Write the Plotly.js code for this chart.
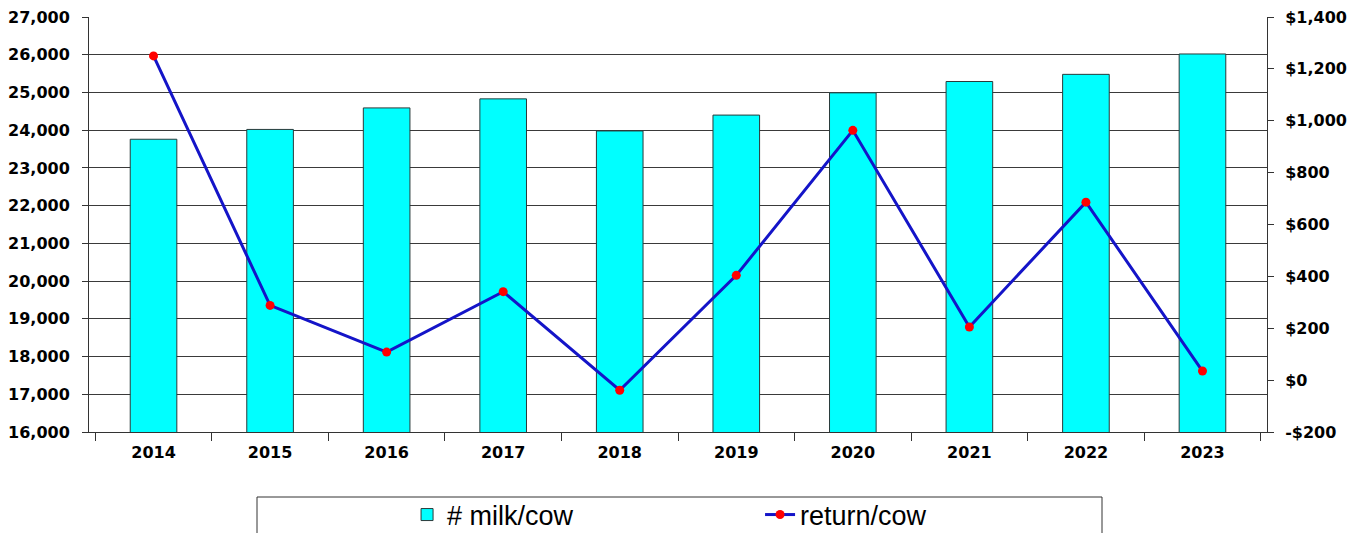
<!DOCTYPE html>
<html>
<head>
<meta charset="utf-8">
<script src="https://cdn.plot.ly/plotly-3.0.1.min.js"></script>
<style>html,body{margin:0;padding:0;background:#fff;}#chart{width:1367px;height:533px;}</style>
</head>
<body>
<div id="chart"></div>
<script>
var years = ['2014','2015','2016','2017','2018','2019','2020','2021','2022','2023'];
var milkPerCow = [23760, 24020, 24590, 24830, 23980, 24400, 24990, 25290, 25480, 26020];
var returnPerCow = [1250, 288, 108, 341, -39, 404, 963, 205, 686, 35];
var y2TickVals = [-200, 0, 200, 400, 600, 800, 1000, 1200, 1400];
var y2TickText = ['-$200', '$0', '$200', '$400', '$600', '$800', '$1,000', '$1,200', '$1,400'];

var tickFont = {family: 'DejaVu Sans, Arial, sans-serif', size: 16, color: '#000', weight: 'bold'};

var traces = [
  {
    type: 'bar', name: '# milk/cow', x: years, y: milkPerCow,
    marker: {color: '#00FFFF', line: {color: '#2a3a3a', width: 1}},
    width: 0.4, hoverinfo: 'x+y'
  },
  {
    type: 'scatter', mode: 'lines+markers', name: 'return/cow', x: years, y: returnPerCow,
    yaxis: 'y2',
    line: {color: '#1414C8', width: 3},
    marker: {color: '#FF0000', size: 9, symbol: 'circle'}
  }
];

var layout = {
  width: 1367, height: 533,
  margin: {l: 89, r: 100, t: 17, b: 101, autoexpand: false},
  paper_bgcolor: '#fff', plot_bgcolor: '#fff',
  showlegend: true,
  xaxis: {
    type: 'category', tickson: 'boundaries', ticks: 'outside', ticklen: 8, tickcolor: '#333',
    showline: true, linecolor: '#333', linewidth: 1, showgrid: false,
    tickfont: tickFont, ticklabelstandoff: 6, automargin: false
  },
  yaxis: {
    range: [16000, 27000], dtick: 1000, tick0: 16000, tickformat: ',d',
    showgrid: true, gridcolor: '#3a3a3a', gridwidth: 1,
    showline: true, linecolor: '#333', linewidth: 1,
    ticks: 'outside', ticklen: 6, tickcolor: '#333',
    tickfont: tickFont, ticklabelstandoff: 9, zeroline: false, automargin: false
  },
  yaxis2: {
    overlaying: 'y', side: 'right', range: [-200, 1400],
    tickmode: 'array', tickvals: y2TickVals, ticktext: y2TickText,
    showgrid: false, zeroline: false,
    showline: true, linecolor: '#333', linewidth: 1,
    ticks: 'outside', ticklen: 6, tickcolor: '#333',
    tickfont: tickFont, ticklabelstandoff: 8, automargin: false
  },
  legend: {
    orientation: 'h', x: 0.27, xanchor: 'left', y: -0.2, yanchor: 'middle',
    font: {family: 'Liberation Sans, Arial, sans-serif', size: 27, color: '#000'},
    bgcolor: 'rgba(0,0,0,0)', borderwidth: 0, entrywidth: 308, itemwidth: 30,
    traceorder: 'normal'
  },
  shapes: [
    {type: 'rect', xref: 'paper', yref: 'paper',
     x0: (257 - 89) / 1178, x1: (1102 - 89) / 1178,
     y0: -(545 - 432) / 415, y1: -(497 - 432) / 415,
     line: {color: '#333', width: 1}, fillcolor: 'rgba(0,0,0,0)', layer: 'below'}
  ]
};

Plotly.newPlot('chart', traces, layout, {displayModeBar: false, staticPlot: true});
</script>
</body>
</html>
